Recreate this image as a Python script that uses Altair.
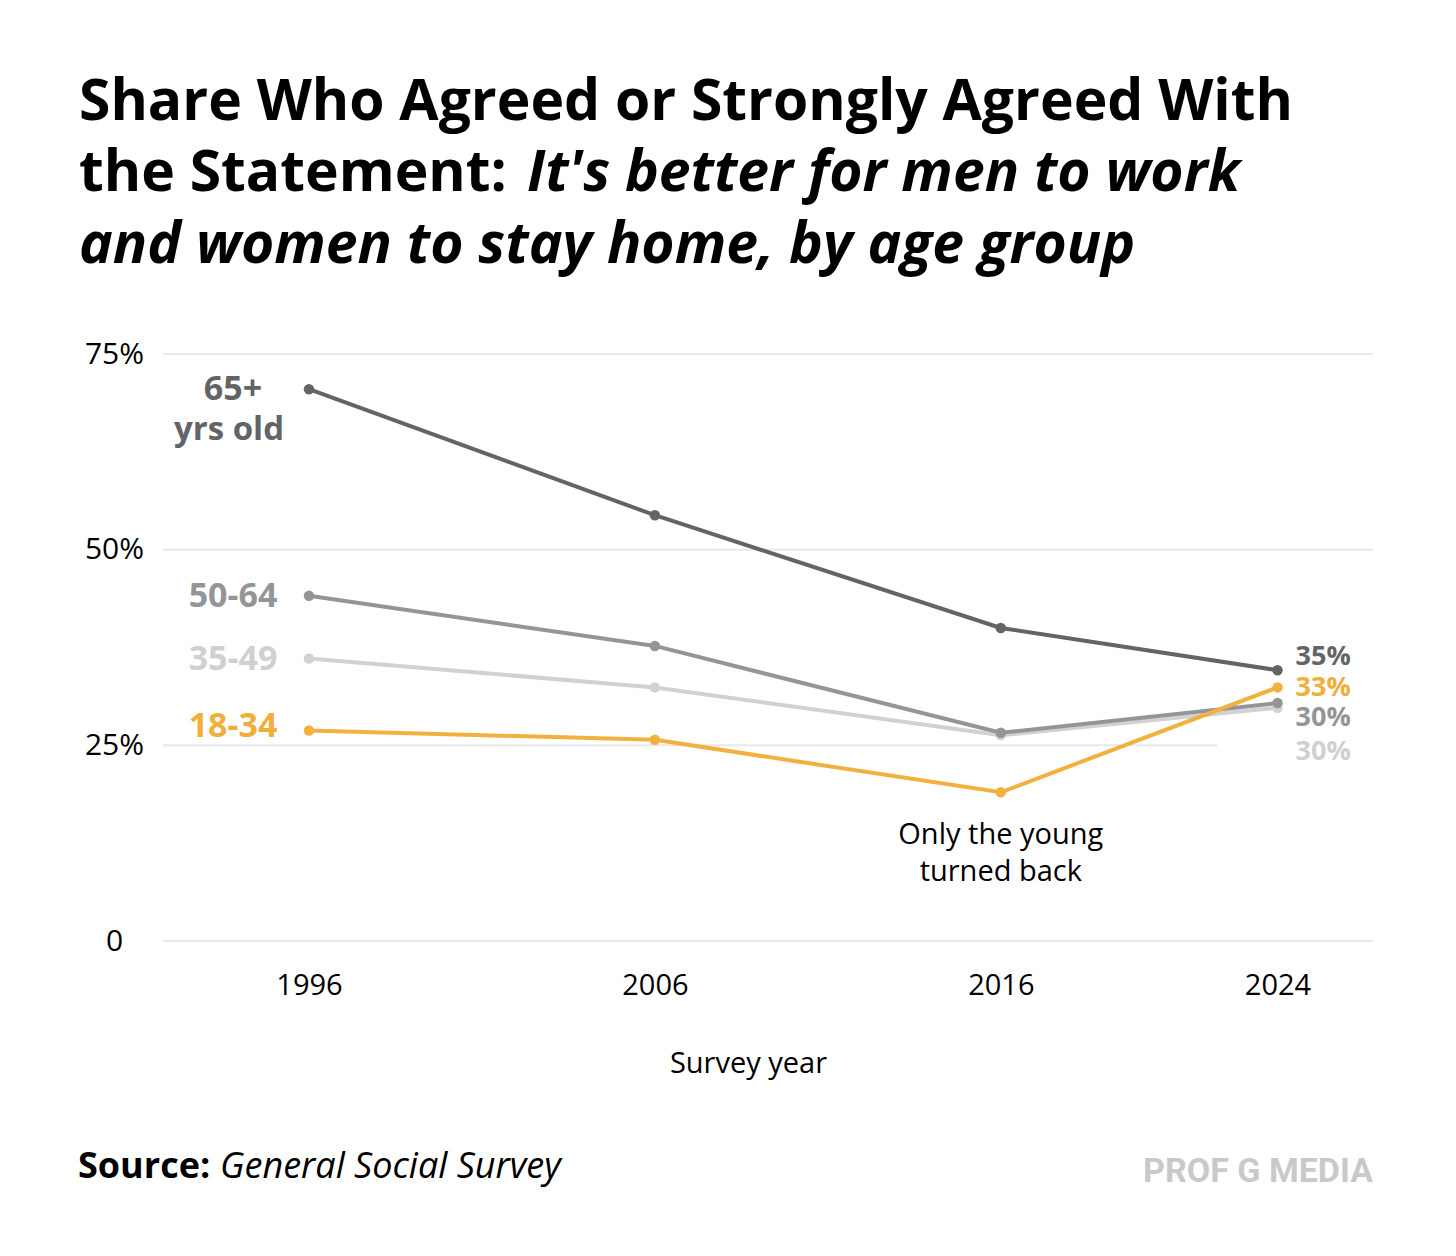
import altair as alt
import pandas as pd

# ---- data ----
years = [1996, 2006, 2016, 2024]
series_names = ["35-49", "50-64", "65+", "18-34"]
vals_35_49 = [36.1, 32.4, 26.3, 29.8]
vals_50_64 = [44.1, 37.7, 26.6, 30.4]
vals_65 = [70.5, 54.4, 40.0, 34.6]
vals_18_34 = [26.9, 25.7, 19.0, 32.4]
end_labels = {"65+": "35%", "18-34": "33%", "50-64": "30%", "35-49": "30%"}
y_ticks = [0, 25, 50, 75]

title1 = "Share Who Agreed or Strongly Agreed With"
title2a = "the Statement:"
title2b = "It's better for men to work"
title3 = "and women to stay home, by age group"
source_a = "Source:"
source_b = "General Social Survey"
brand = "PROF G MEDIA"
annot1 = "Only the young"
annot2 = "turned back"
x_title = "Survey year"

colors = {"35-49": "#d0d1d3", "50-64": "#939598", "65+": "#636468", "18-34": "#f1b13f"}
label_colors = {"35-49": "#cfd0d2", "50-64": "#939598", "65+": "#636468", "18-34": "#f0ae3b"}

rows = []
for name, vals in zip(series_names, [vals_35_49, vals_50_64, vals_65, vals_18_34]):
    for yr, v in zip(years, vals):
        rows.append({"year": yr, "value": v, "series": name, "end": end_labels[name]})
df = pd.DataFrame(rows)

W, H = 1210, 587
FONT = "Open Sans"

xscale = alt.Scale(domain=[1991.78, 2026.76], nice=False, zero=False)
yscale = alt.Scale(domain=[0, 75], nice=False)
xaxis = alt.Axis(values=years, format="d", grid=False, domain=False, ticks=False, tickSize=0,
                 labelPadding=30, labelFontSize=29, labelFont=FONT, labelColor="#000",
                 title=x_title, titleFont=FONT, titleFontSize=29, titleFontWeight="normal",
                 titleColor="#000", titleX=585, titleY=122, titleBaseline="middle", titleAlign="center")
yaxis = alt.Axis(values=y_ticks, grid=False, domain=False, ticks=False, tickSize=0,
                 labelPadding=49, labelAlign="center", labelBaseline="middle",
                 labelFontSize=30, labelFont=FONT, labelColor="#000",
                 labelExpr="datum.value == 0 ? '0' : datum.value + '%'", title=None)

X = alt.X("year:Q", scale=xscale, axis=xaxis)
Y = alt.Y("value:Q", scale=yscale, axis=yaxis)
color = alt.Color("series:N", scale=alt.Scale(domain=list(colors.keys()), range=list(colors.values())), legend=None)

grid_full = alt.Chart(pd.DataFrame({"value": [0, 50, 75]})).mark_rule(color="#e8e8e8", strokeWidth=2).encode(
    y=Y, x=alt.value(0), x2=alt.value(W))
grid_25 = alt.Chart(pd.DataFrame({"value": [25]})).mark_rule(color="#e8e8e8", strokeWidth=2).encode(
    y=Y, x=alt.value(0), x2=alt.value(1054))

base = alt.Chart(df)
lines = base.mark_line(strokeWidth=4).encode(x=X, y=Y, color=color, detail="series:N")
points = base.mark_point(filled=True, size=110, opacity=1).encode(x=X, y=Y, color=color)

layers = [grid_full, grid_25, lines, points]

# left labels (centred in the margin left of 1996)
left_cfg = {"65+": 1, "50-64": 1, "35-49": 2, "18-34": -3}
for name, dy in left_cfg.items():
    layers.append(
        base.transform_filter((alt.datum.series == name) & (alt.datum.year == years[0]))
        .mark_text(align="center", baseline="middle", dx=-76, dy=dy, font=FONT, fontWeight="bold",
                   fontSize=34, color=label_colors[name])
        .encode(x=X, y=Y, text="series:N"))
layers.append(
    alt.Chart(pd.DataFrame({"year": [years[0]], "value": [vals_65[0]], "t": ["yrs old"]}))
    .mark_text(align="center", baseline="middle", dx=-80, dy=41, font=FONT, fontWeight="bold",
               fontSize=33, color=label_colors["65+"])
    .encode(x=X, y=Y, text="t:N"))

# right labels
right_cfg = {"65+": -13, "18-34": 1, "50-64": 15, "35-49": 44}
for name, dy in right_cfg.items():
    layers.append(
        base.transform_filter((alt.datum.series == name) & (alt.datum.year == years[-1]))
        .mark_text(align="left", baseline="middle", dx=18, dy=dy, font=FONT, fontWeight="bold",
                   fontSize=27, color=label_colors[name])
        .encode(x=X, y=Y, text="end:N"))

# annotation under the 2016 youth point
for txt, dy in [(annot1, 43), (annot2, 80)]:
    layers.append(
        alt.Chart(pd.DataFrame({"year": [years[2]], "value": [vals_18_34[2]], "t": [txt]}))
        .mark_text(align="center", baseline="middle", dy=dy, font=FONT, fontSize=29, color="#000")
        .encode(x=X, y=Y, text="t:N"))


def free_text(txt, x, y, **kw):
    return alt.Chart(pd.DataFrame({"t": [txt]})).mark_text(**kw).encode(
        x=alt.value(x), y=alt.value(y), text="t:N")

TS = 57
layers += [
    free_text(title1, -84, -234, align="left", baseline="alphabetic", font=FONT, fontWeight="bold", fontSize=TS, color="#000"),
    free_text(title2a, -84, -163, align="left", baseline="alphabetic", font=FONT, fontWeight="bold", fontSize=TS, color="#000"),
    free_text(title2b, 364, -163, align="left", baseline="alphabetic", font=FONT, fontWeight="bold", fontStyle="italic", fontSize=TS, color="#000"),
    free_text(title3, -84, -91, align="left", baseline="alphabetic", font=FONT, fontWeight="bold", fontStyle="italic", fontSize=TS, color="#000"),
    free_text(source_a, -85, 824, align="left", baseline="alphabetic", font=FONT, fontWeight="bold", fontSize=36, color="#000"),
    free_text(source_b, 57, 824, align="left", baseline="alphabetic", font=FONT, fontStyle="italic", fontSize=36, color="#000"),
    free_text(brand, W, 828, align="right", baseline="alphabetic", font="Roboto", fontWeight="bold", fontSize=34, color="#c9c9c9"),
]

chart = alt.layer(*layers).properties(
    width=W, height=H,
    autosize=alt.AutoSizeParams(type="none"),
    padding={"left": 155, "top": 346, "right": 75, "bottom": 300},
).configure(background="#ffffff").configure_view(stroke="transparent", strokeWidth=0)

chart.save("out.html", embed_options={"renderer": "svg", "actions": False})
